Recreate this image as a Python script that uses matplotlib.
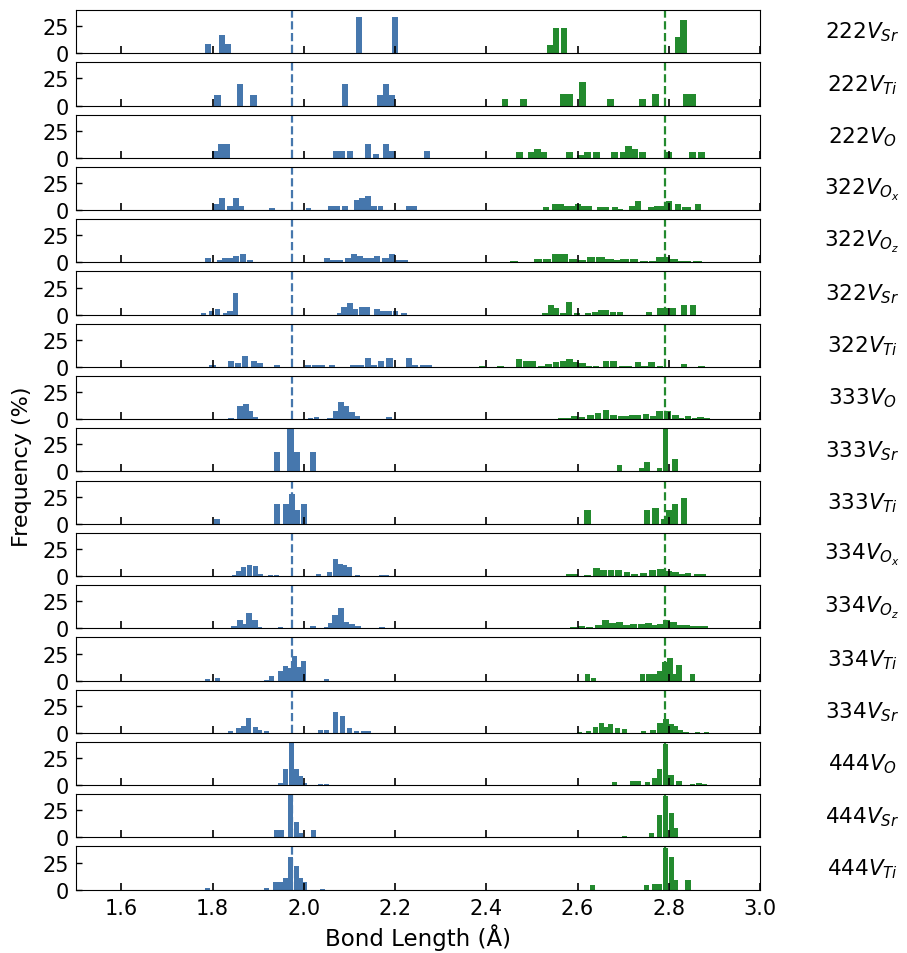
import matplotlib
matplotlib.use("Agg")
import matplotlib.pyplot as plt

# panel labels (supercell + vacancy type)
labels = ['222V_{Sr}', '222V_{Ti}', '222V_{O}', '322V_{O_x}', '322V_{O_z}', '322V_{Sr}',
          '322V_{Ti}', '333V_{O}', '333V_{Sr}', '333V_{Ti}', '334V_{O_x}', '334V_{O_z}',
          '334V_{Ti}', '334V_{Sr}', '444V_{O}', '444V_{Sr}', '444V_{Ti}']

# reference bond lengths (dashed lines)
ti_ref = 1.973
sr_ref = 2.792

# Ti-O histogram: bin centres (A), frequency (%), bin width
ti_pos = [
    [1.790, 1.821, 1.834, 2.121, 2.200],
    [1.810, 1.860, 1.890, 2.090, 2.168, 2.180, 2.193],
    [1.805, 1.8195, 1.832, 2.070, 2.083, 2.101, 2.141, 2.158, 2.180, 2.193, 2.270],
    [1.808, 1.820, 1.838, 1.851, 1.863, 1.930, 2.010, 2.060, 2.072, 2.090, 2.117, 2.128, 2.140, 2.153, 2.168, 2.229, 2.241],
    [1.789, 1.817, 1.828, 1.838, 1.851, 1.867, 1.881, 2.050, 2.065, 2.080, 2.097, 2.109, 2.122, 2.133, 2.146, 2.160, 2.179, 2.193, 2.209, 2.221],
    [1.780, 1.798, 1.811, 1.828, 1.838, 1.850, 2.078, 2.088, 2.101, 2.113, 2.127, 2.139, 2.160, 2.173, 2.187, 2.201, 2.219],
    [1.800, 1.840, 1.855, 1.871, 1.890, 1.903, 1.941, 2.009, 2.025, 2.040, 2.062, 2.109, 2.124, 2.140, 2.154, 2.169, 2.188, 2.230, 2.244, 2.262, 2.274],
    [1.840, 1.860, 1.873, 1.883, 1.893, 2.015, 2.028, 2.057, 2.070, 2.081, 2.093, 2.105, 2.116, 2.187],
    [1.941, 1.971, 1.984, 2.020],
    [1.810, 1.941, 1.960, 1.974, 1.985, 2.000],
    [1.847, 1.857, 1.868, 1.880, 1.893, 1.904, 1.926, 1.940, 2.031, 2.057, 2.069, 2.080, 2.090, 2.101, 2.118, 2.170, 2.182],
    [1.847, 1.860, 1.871, 1.880, 1.893, 1.903, 1.949, 2.020, 2.049, 2.058, 2.068, 2.081, 2.093, 2.105, 2.119, 2.171],
    [1.789, 1.810, 1.919, 1.930, 1.948, 1.960, 1.970, 1.980, 1.990, 2.000, 2.050],
    [1.840, 1.857, 1.868, 1.879, 1.893, 1.903, 1.918, 2.037, 2.050, 2.070, 2.084, 2.101, 2.116, 2.130, 2.142],
    [1.948, 1.959, 1.972, 1.983, 1.993, 2.002, 2.037, 2.050],
    [1.939, 1.951, 1.971, 1.983, 1.993, 2.020],
    [1.789, 1.918, 1.938, 1.948, 1.959, 1.971, 1.983, 1.993, 2.002, 2.040],
]
ti_pct = [
    [8.3, 16.7, 8.3, 33.3, 33.3],
    [10, 20, 10, 20, 10, 20, 10],
    [6.25, 12.5, 12.5, 6.25, 6.25, 6.25, 12.5, 3.1, 12.5, 6.25, 6.25],
    [5.5, 11.1, 3.7, 11.1, 3.7, 1.85, 1.85, 3.7, 3.7, 3.7, 9.3, 11.1, 13.0, 3.7, 3.7, 3.7, 3.7],
    [3.7, 1.8, 3.7, 3.7, 5.5, 7.4, 1.8, 3.7, 1.8, 1.8, 3.7, 8.0, 5.5, 3.7, 3.7, 5.5, 3.7, 8.0, 1.8, 1.8],
    [1.7, 3.4, 5.2, 1.7, 3.4, 20.0, 1.7, 7.1, 10.8, 5.2, 7.1, 7.1, 5.2, 3.4, 3.4, 3.4, 1.7],
    [1.8, 5.5, 3.7, 10.2, 5.5, 3.7, 1.8, 1.8, 1.8, 1.8, 1.8, 1.8, 1.8, 8.3, 1.8, 5.5, 8.3, 8.3, 1.8, 1.8, 1.8],
    [1.0, 12.0, 13.8, 7.4, 1.8, 1.0, 1.8, 1.0, 7.4, 15.7, 12.0, 6.5, 2.8, 1.8],
    [18.2, 45.5, 18.2, 18.2],
    [4.6, 18.5, 18.5, 27.7, 12.3, 18.5],
    [1.0, 4.6, 8.3, 10.2, 9.2, 1.8, 1.0, 1.0, 1.8, 3.7, 15.7, 11.0, 10.2, 8.3, 1.0, 1.0, 1.0],
    [2.2, 7.7, 4.0, 14.2, 7.7, 1.2, 1.2, 2.2, 1.2, 4.9, 12.3, 18.8, 5.8, 4.0, 2.2, 1.2],
    [1.5, 2.5, 0.6, 4.3, 8.6, 13.5, 11.4, 22.8, 12.3, 18.2, 1.5],
    [1.8, 4.6, 6.5, 13.8, 5.5, 2.8, 1.8, 2.8, 2.8, 19.4, 15.7, 4.6, 1.8, 1.8, 1.8],
    [2.2, 15.0, 54.0, 15.0, 8.6, 2.2, 1.2, 1.2],
    [7.1, 7.1, 60.0, 14.5, 3.7, 7.1],
    [1.5, 1.8, 7.4, 7.4, 11.0, 30.2, 21.8, 11.0, 7.4, 1.0],
]
ti_bin = [0.014, 0.015, 0.0135, 0.0125, 0.0135, 0.012, 0.014, 0.012, 0.015,
          0.013, 0.011, 0.012, 0.011, 0.011, 0.011, 0.011, 0.011]

# Sr-O histogram
sr_pos = [
    [2.540, 2.552, 2.571, 2.820, 2.832],
    [2.441, 2.481, 2.570, 2.583, 2.611, 2.672, 2.742, 2.771, 2.839, 2.852],
    [2.472, 2.499, 2.512, 2.525, 2.582, 2.606, 2.622, 2.642, 2.681, 2.701, 2.712, 2.725, 2.742, 2.800, 2.852, 2.872],
    [2.531, 2.550, 2.563, 2.576, 2.590, 2.600, 2.612, 2.624, 2.650, 2.663, 2.681, 2.694, 2.720, 2.733, 2.760, 2.773, 2.786, 2.801, 2.821, 2.835, 2.843, 2.863],
    [2.461, 2.513, 2.533, 2.553, 2.570, 2.590, 2.610, 2.630, 2.650, 2.670, 2.688, 2.703, 2.723, 2.745, 2.765, 2.781, 2.794, 2.811, 2.827, 2.840, 2.863],
    [2.529, 2.541, 2.553, 2.569, 2.582, 2.599, 2.622, 2.639, 2.651, 2.663, 2.677, 2.692, 2.757, 2.780, 2.793, 2.810, 2.833, 2.852],
    [2.391, 2.431, 2.472, 2.487, 2.501, 2.521, 2.536, 2.552, 2.569, 2.582, 2.597, 2.611, 2.624, 2.640, 2.662, 2.679, 2.697, 2.712, 2.732, 2.747, 2.762, 2.780, 2.833, 2.872],
    [2.565, 2.578, 2.593, 2.610, 2.628, 2.645, 2.662, 2.679, 2.695, 2.707, 2.720, 2.732, 2.750, 2.767, 2.780, 2.797, 2.814, 2.827, 2.842, 2.857, 2.870, 2.883],
    [2.692, 2.740, 2.752, 2.780, 2.793, 2.813],
    [2.622, 2.752, 2.771, 2.790, 2.801, 2.813, 2.833],
    [2.581, 2.593, 2.622, 2.641, 2.657, 2.673, 2.690, 2.708, 2.725, 2.744, 2.764, 2.782, 2.800, 2.815, 2.828, 2.842, 2.862, 2.874],
    [2.591, 2.609, 2.627, 2.645, 2.662, 2.676, 2.692, 2.708, 2.723, 2.740, 2.755, 2.768, 2.781, 2.795, 2.810, 2.826, 2.838, 2.849, 2.864, 2.878],
    [2.622, 2.635, 2.742, 2.755, 2.768, 2.780, 2.791, 2.803, 2.811, 2.822, 2.852],
    [2.604, 2.624, 2.639, 2.652, 2.662, 2.672, 2.688, 2.703, 2.745, 2.765, 2.781, 2.794, 2.805, 2.814, 2.825, 2.838, 2.863, 2.883],
    [2.681, 2.721, 2.733, 2.753, 2.769, 2.780, 2.793, 2.805, 2.822, 2.852, 2.866, 2.878],
    [2.703, 2.762, 2.780, 2.792, 2.805, 2.815],
    [2.633, 2.752, 2.768, 2.779, 2.793, 2.805, 2.815, 2.842],
]
sr_pct = [
    [7.7, 23.1, 23.1, 15.4, 30.8],
    [5.6, 5.6, 11.1, 11.1, 22.2, 5.6, 5.6, 11.1, 11.1, 11.1],
    [5.6, 5.6, 8.3, 5.6, 5.6, 2.8, 5.6, 5.6, 5.6, 5.6, 11.1, 8.3, 5.6, 5.6, 5.6, 5.6],
    [2.8, 5.5, 5.5, 3.7, 3.7, 5.5, 3.7, 3.7, 2.8, 2.8, 2.8, 0.9, 3.7, 8.3, 2.8, 3.7, 3.7, 8.3, 5.5, 2.8, 2.8, 5.5],
    [0.9, 2.8, 2.8, 8.0, 8.0, 2.8, 1.8, 4.9, 4.9, 2.8, 1.8, 2.8, 2.8, 0.9, 0.9, 4.9, 4.9, 2.8, 0.9, 0.9, 0.9],
    [1.5, 8.9, 6.2, 1.5, 11.7, 1.5, 1.5, 2.5, 4.3, 4.3, 2.5, 2.5, 2.5, 6.2, 6.2, 6.2, 8.9, 8.9],
    [0.9, 0.9, 7.4, 5.5, 5.5, 0.9, 2.8, 4.6, 5.5, 7.4, 4.6, 3.7, 0.9, 0.9, 5.5, 5.5, 0.9, 0.9, 4.6, 0.9, 4.6, 0.9, 2.8, 0.9],
    [1.0, 1.0, 2.8, 1.8, 3.7, 5.5, 8.3, 3.7, 2.8, 2.8, 3.7, 3.7, 4.6, 2.8, 7.4, 7.4, 3.7, 1.0, 2.8, 1.0, 1.8, 1.0],
    [6.2, 3.4, 8.9, 3.4, 63.0, 11.7],
    [12.3, 12.3, 14.8, 4.6, 12.3, 18.5, 24.0],
    [1.8, 1.8, 1.0, 7.4, 5.5, 5.5, 5.5, 3.7, 1.8, 2.8, 5.5, 6.5, 4.6, 3.7, 1.8, 2.8, 1.8, 1.8],
    [0.9, 1.8, 0.9, 3.1, 7.7, 4.9, 5.8, 3.1, 4.0, 4.0, 4.9, 3.1, 4.0, 7.7, 5.8, 3.1, 3.1, 2.2, 2.2, 2.2],
    [6.2, 2.5, 6.2, 6.2, 6.2, 8.9, 17.2, 20.9, 6.2, 14.5, 6.2],
    [1.0, 1.8, 5.5, 9.2, 5.5, 8.3, 4.6, 3.7, 1.8, 2.8, 9.2, 12.9, 8.3, 6.5, 2.8, 1.0, 1.0, 1.0],
    [3.1, 4.0, 4.0, 3.1, 6.8, 15.0, 38.0, 9.5, 4.0, 1.2, 2.2, 1.2],
    [1.8, 4.3, 21.2, 38.0, 22.8, 8.9],
    [4.3, 4.3, 5.2, 5.2, 38.5, 30.0, 8.9, 8.9],
]
sr_bin = [0.0135, 0.015, 0.0145, 0.013, 0.018, 0.013, 0.014, 0.0145, 0.012,
          0.014, 0.0145, 0.015, 0.012, 0.012, 0.012, 0.011, 0.011]

xticks = [1.6, 1.8, 2.0, 2.2, 2.4, 2.6, 2.8, 3.0]
blue = '#4677ad'
green = '#238a2e'

fig, axes = plt.subplots(len(labels), 1, figsize=(9.07, 9.54), sharex=True)
fig.subplots_adjust(left=0.0836, right=0.838, top=0.9885, bottom=0.0663, hspace=0.208)

for i, ax in enumerate(axes):
    ax.axvline(ti_ref, color=blue, ls='--', lw=1.6, zorder=0.5)
    ax.axvline(sr_ref, color=green, ls='--', lw=1.6, zorder=0.5)
    ax.bar(ti_pos[i], ti_pct[i], width=ti_bin[i], color=blue)
    ax.bar(sr_pos[i], sr_pct[i], width=sr_bin[i], color=green)
    ax.set_xlim(1.5, 3.0)
    ax.set_ylim(0, 40)
    ax.set_yticks([0, 25])
    ax.set_xticks(xticks)
    ax.tick_params(axis='x', direction='in', length=5, width=1.2, labelsize=15, pad=6)
    ax.tick_params(axis='y', direction='in', length=4, width=1.0, labelsize=15, pad=5)
    ax.text(1.149, 0.5, '$' + labels[i] + '$', transform=ax.transAxes,
            ha='center', va='center', fontsize=15.5)

axes[-1].set_xlabel('Bond Length (Å)', fontsize=16.5, labelpad=4)
fig.text(0.024, 0.511, 'Frequency (%)', rotation=90, ha='center', va='center', fontsize=16)

plt.savefig('out.png', dpi=100)
